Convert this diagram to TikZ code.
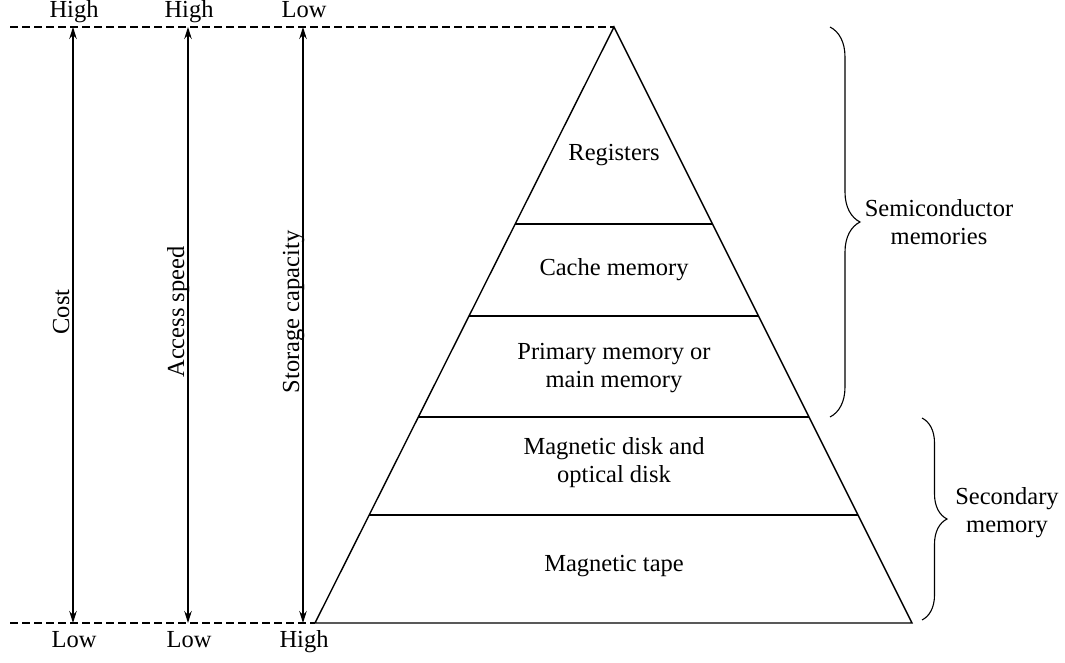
\documentclass[tikz,border=0pt]{standalone}
\usepackage{fontspec}
\setmainfont{Liberation Serif}
\usetikzlibrary{calc,arrows.meta,decorations.pathreplacing}

\begin{document}
\begin{tikzpicture}[x=1pt,y=-1pt,font=\fontsize{24.5}{28}\selectfont,
  lbl/.style={inner sep=0pt},
  twotip/.style={{Stealth[length=12pt,width=7.5pt]}-{Stealth[length=12pt,width=7.5pt]},line width=1.1pt},
  brc/.style={decorate,decoration={brace,amplitude=#1,aspect=0.5},line width=1.1pt}]
\useasboundingbox (0,0) rectangle (1065,663);
% pyramid
\coordinate (apex) at (614,27);
\coordinate (bl) at (315,623);
\coordinate (br) at (912,623);
\draw[line width=1.4pt] (bl) -- (apex) -- (br) -- cycle;
\foreach \y in {224,316,417,515}{\draw[line width=1.2pt] ($(bl)!{(623-\y)/596}!(apex)$) -- ($(br)!{(623-\y)/596}!(apex)$);}
\node[lbl] (reg) at (614,155) {Registers};
\node[lbl] (cache) at (614,270) {Cache memory};
\node[lbl,align=center] (prim) at (614,368) {Primary memory or\\main memory};
\node[lbl,align=center] (disk) at (614,463) {Magnetic disk and\\optical disk};
\node[lbl] (tape) at (614,566) {Magnetic tape};
% dashed limits
\coordinate (dtop) at (10,27);
\coordinate (dbot) at (10,623);
\draw[line width=1.1pt,dash pattern=on 8pt off 4pt] (dtop) -- (apex);
\draw[line width=1.1pt,dash pattern=on 8pt off 4pt] (dbot) -- (bl);
% scales
\foreach \x/\nm/\ltop/\lbot/\txt in {73/cost/High/Low/Cost, 188/speed/High/Low/Access speed, 303/cap/Low/High/Storage capacity}{
  \coordinate (\nm-a) at (\x,27);
  \coordinate (\nm-b) at (\x,623);
  \draw[twotip] (\nm-a) -- (\nm-b);
  \node[lbl,anchor=base] (\nm-top) at (\x+1,18) {\ltop};
  \node[lbl,anchor=base] (\nm-bot) at (\x+1,647) {\lbot};
  \node[lbl,rotate=90,anchor=base] (\nm-txt) at (\x-4,312) {\txt};
}
% braces
\draw[brc=30pt] (830,27) -- (830,417);
\node[lbl,align=center] (semi) at (939,222) {Semiconductor\\memories};
\draw[brc=25pt] (922,418) -- (922,620);
\node[lbl,align=center] (sec) at (1007,513) {Secondary\\memory};
\end{tikzpicture}
\end{document}
